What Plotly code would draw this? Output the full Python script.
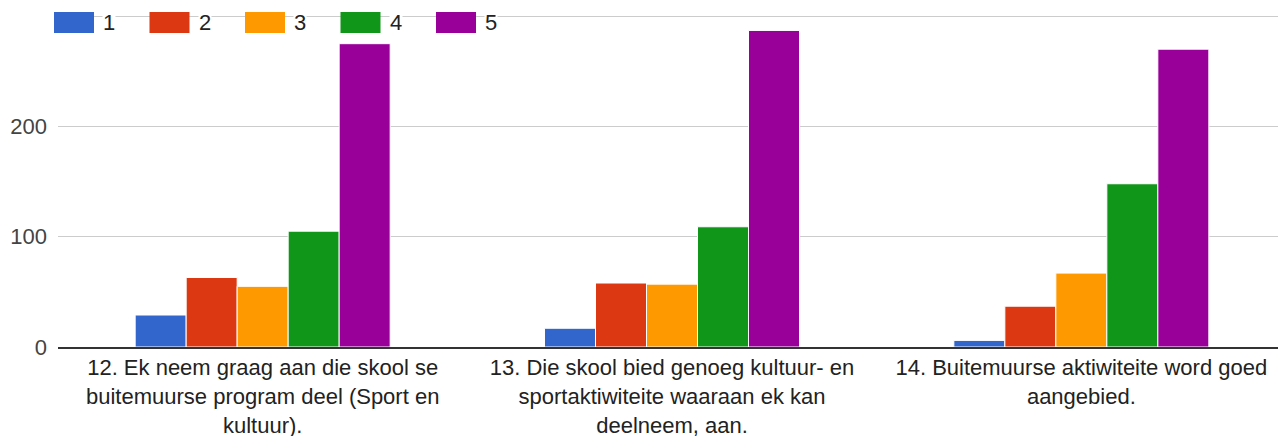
import plotly.graph_objects as go

categories = [
    "12. Ek neem graag aan die skool se<br>buitemuurse program deel (Sport en<br>kultuur).",
    "13. Die skool bied genoeg kultuur- en<br>sportaktiwiteite waaraan ek kan<br>deelneem, aan.",
    "14. Buitemuurse aktiwiteite word goed<br>aangebied.",
]
series_names = ["1", "2", "3", "4", "5"]
series_values = [
    [29, 17, 6],
    [63, 58, 37],
    [55, 57, 67],
    [105, 109, 148],
    [275, 287, 270],
]
colors = ["#3366cc", "#dc3912", "#ff9900", "#109618", "#990099"]
y_tickvals = [0, 100, 200, 300]
y_ticktext = ["0", "100", "200", ""]

# page has an 8px body margin; figure coordinates are offset accordingly
OFF = 8
FIG_W, FIG_H = 1286 - OFF, 436 - OFF
PLOT_L, PLOT_T, PLOT_B = 58 - OFF, 15 - OFF, 347 - OFF
PLOT_W = FIG_W - PLOT_L
PLOT_H = PLOT_B - PLOT_T

fig = go.Figure()
for name, vals, col in zip(series_names, series_values, colors):
    fig.add_trace(go.Bar(
        x=categories, y=vals, name=name,
        marker=dict(color=col, line=dict(color="white", width=1)),
        showlegend=False,
    ))

# custom legend (Google Charts style)
shapes = []
annotations = []
for i, (name, col) in enumerate(zip(series_names, colors)):
    x0 = 54 - OFF + i * 95.5
    top, bot = 12 - OFF, 33 - OFF
    shapes.append(dict(type="rect", xref="paper", yref="paper",
                       x0=(x0 - PLOT_L) / PLOT_W, x1=(x0 + 40 - PLOT_L) / PLOT_W,
                       y0=(PLOT_B - bot) / PLOT_H, y1=(PLOT_B - top) / PLOT_H,
                       fillcolor=col, line=dict(width=0), layer="above"))
    annotations.append(dict(xref="paper", yref="paper",
                            x=(x0 + 48 - PLOT_L) / PLOT_W, y=(PLOT_B - (top + bot) / 2) / PLOT_H,
                            text=name, showarrow=False, xanchor="left", yanchor="middle",
                            font=dict(family="Liberation Sans, Arial", size=22, color="#222222"),
                            bgcolor="white", borderpad=0))

fig.update_layout(
    width=FIG_W, height=FIG_H,
    margin=dict(l=PLOT_L, r=0, t=PLOT_T, b=FIG_H - PLOT_B),
    paper_bgcolor="white", plot_bgcolor="white",
    barmode="group", bargap=0.377, bargroupgap=0,
    font=dict(family="Liberation Sans, Arial", size=22, color="#222222"),
    shapes=shapes, annotations=annotations,
    xaxis=dict(showgrid=False, showline=True, linecolor="#333333", linewidth=2,
               ticks="", automargin=False, ticklabelstandoff=0,
               tickfont=dict(family="Liberation Sans, Arial", size=22, color="#222222")),
    yaxis=dict(range=[0, 301], tickvals=y_tickvals, ticktext=y_ticktext,
               showgrid=True, gridcolor="#cccccc", gridwidth=1,
               zeroline=False, ticks="", ticklabelstandoff=10, automargin=False,
               tickfont=dict(family="Liberation Sans, Arial", size=22, color="#444444")),
)

fig.write_html("out.html")
